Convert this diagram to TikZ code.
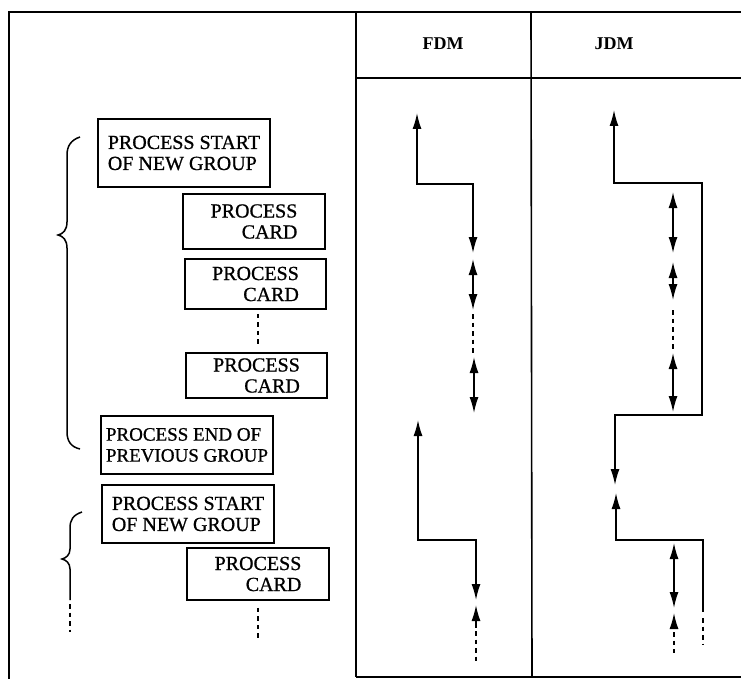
\documentclass[tikz,border=0pt]{standalone}
\usepackage{fontspec}
\setmainfont{Liberation Serif}
\newfontfamily\boxfont{Liberation Serif}[FakeBold=0.8]
\usetikzlibrary{arrows.meta}
\tikzset{
  frame/.style={line width=1.6pt},
  pbox/.style={draw, line width=1.6pt, inner sep=0pt, font=\boxfont\fontsize{20}{21}\selectfont},
  lbox/.style={pbox, align=left},
  rbox/.style={pbox, align=right},
  hdr/.style={font=\fontsize{18}{19}\selectfont\bfseries},
  sig/.style={line width=1.5pt, line join=miter},
  dbl/.style={sig, {Latex[length=16pt,width=9pt]}-{Latex[length=16pt,width=9pt]}},
  upa/.style={sig, {Latex[length=16pt,width=9pt]}-},
  dsh/.style={line width=2pt, dash pattern=on 4.5pt off 4pt},
  brace/.style={line width=1.5pt}
}
\begin{document}
\begin{tikzpicture}[x=1pt,y=-1pt]
\useasboundingbox (0,0) rectangle (741,679);
% frame
\draw[frame] (9,679) -- (9,12) -- (741,12);
\draw[frame] (356,12) -- (356,677);
\draw[frame] (531,12) -- (532,677);
\draw[frame] (356,78) -- (741,78);
\draw[frame] (356,677) -- (741,677);
\node[hdr] (fdm) at (443,44) {FDM};
\node[hdr] (jdm) at (614,44) {JDM};
% boxes
\node[lbox, minimum width=172pt, minimum height=68pt] (b1) at (184,153) {PROCESS START\\OF NEW GROUP};
\node[rbox, minimum width=142pt, minimum height=55pt] (b2) at (254,221.5) {PROCESS\\CARD};
\node[rbox, minimum width=141pt, minimum height=50pt] (b3) at (255.5,284) {PROCESS\\CARD};
\node[rbox, minimum width=141pt, minimum height=45pt] (b4) at (256.5,375.5) {PROCESS\\CARD};
\node[lbox, minimum width=172pt, minimum height=58pt, font=\boxfont\fontsize{19}{21}\selectfont] (b5) at (187,445) {PROCESS END OF\\PREVIOUS GROUP};
\node[lbox, minimum width=172pt, minimum height=58pt] (b6) at (188,514) {PROCESS START\\OF NEW GROUP};
\node[rbox, minimum width=142pt, minimum height=52pt] (b7) at (258,574) {PROCESS\\CARD};
\draw[dsh] ([xshift=2.5pt,yshift=-4pt]b3.south) -- ([xshift=1.5pt,yshift=8pt]b4.north);
\coordinate (e7) at (258,640);
\draw[dsh] ([yshift=-7pt]b7.south) -- (e7);
% braces
\draw[brace] (80,137) .. controls (71,140) and (67,146) .. (67,155) -- (67,222)
  .. controls (67,230) and (63,234) .. (58,235) .. controls (63,236) and (67,240) .. (67,248)
  -- (67,432) .. controls (67,441) and (71,447) .. (80,449);
\draw[brace] (82,512) .. controls (73,515) and (70,520) .. (70,528) -- (70,549)
  .. controls (70,555) and (66,558) .. (62,559) .. controls (66,560) and (70,563) .. (70,569) -- (70,600);
\coordinate (bl) at (70,632);
\draw[dsh] (70,604) -- (bl);
% FDM signals
\draw[dbl] (417,113) -- (417,184) -- (473,184) -- (473,253);
\draw[dbl] (473,259) -- (473,310);
\draw[dsh] (473,314) -- (473,354);
\draw[dbl] (474,357) -- (474,413);
\draw[dbl] (418,420) -- (418,540) -- (476,540) -- (476,600);
\draw[upa] (476,605) -- (476,628);
\draw[dsh] (476,631) -- (476,662);
% JDM signals
\draw[dbl] (614,110) -- (614,183) -- (702,183) -- (702,415) -- (615,415) -- (615,485);
\draw[dbl] (673,192) -- (673,253);
\draw[dbl] (673,262) -- (673,300);
\draw[dsh] (673,310) -- (673,350);
\draw[dbl] (673,353) -- (673,412);
\draw[upa] (616,493) -- (616,540) -- (703,540) -- (703,612);
\draw[dsh] (703,618) -- (703,644);
\draw[dbl] (674,543) -- (674,608);
\draw[upa] (674,613) -- (674,629);
\draw[dsh] (674,632) -- (674,653);
\end{tikzpicture}
\end{document}
